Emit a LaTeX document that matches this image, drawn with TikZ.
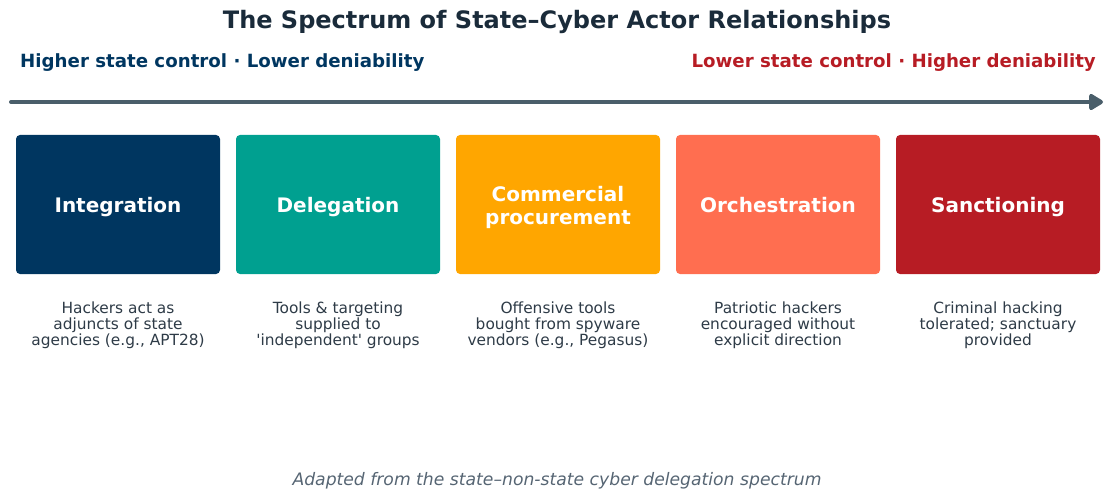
\documentclass[tikz,border=0pt]{standalone}
\usepackage{fontspec}
\setmainfont{DejaVu Sans}
\usetikzlibrary{arrows.meta}
\definecolor{cnavy}{HTML}{003660}
\definecolor{cteal}{HTML}{00A090}
\definecolor{corange}{HTML}{FFA600}
\definecolor{ccoral}{HTML}{FF6E50}
\definecolor{cred}{HTML}{B71C24}
\definecolor{carrow}{HTML}{4A5E6A}
\definecolor{ctitle}{HTML}{1A2B3A}
\definecolor{cdesc}{HTML}{2E3B47}
\definecolor{cfoot}{HTML}{566573}
\tikzset{
  x=1pt,y=-1pt,
  catbox/.style={draw=none,rounded corners=4pt,minimum width=204pt,minimum height=139pt,inner sep=0pt},
  catlabel/.style={text=white,font=\fontsize{20}{23}\selectfont\bfseries,align=center,anchor=base,inner sep=0pt},
  desc/.style={text=cdesc,font=\fontsize{15.4}{16}\selectfont,align=center,anchor=base,inner sep=0pt},
}
\begin{document}
\begin{tikzpicture}
\useasboundingbox (0,0) rectangle (1113,497);
\node[font=\fontsize{24}{28}\selectfont\bfseries,text=ctitle,anchor=base,inner sep=0pt] (title) at (557,29) {The Spectrum of State–Cyber Actor Relationships};
\node[font=\fontsize{18.2}{22}\selectfont\bfseries,text=cnavy,anchor=base west,inner sep=0pt] (left) at (20,68) {Higher state control · Lower deniability};
\node[font=\fontsize{18.2}{22}\selectfont\bfseries,text=cred,anchor=base east,inner sep=0pt] (right) at (1096,68) {Lower state control · Higher deniability};
\coordinate (a0) at (11,102);
\coordinate (a1) at (1103,102);
\draw[carrow,line width=4pt,line cap=round,-{Triangle[length=16pt,width=18pt,round]}] (a0) -- (a1);
\foreach \i/\c/\t/\y/\d in {
 0/cnavy/Integration/212/{Hackers act as\\adjuncts of state\\agencies (e.g., APT28)},
 1/cteal/Delegation/212/{Tools \& targeting\\supplied to\\\textquotesingle independent\textquotesingle\ groups},
 2/corange/{Commercial\\procurement}/224/{Offensive tools\\bought from spyware\\vendors (e.g., Pegasus)},
 3/ccoral/Orchestration/212/{Patriotic hackers\\encouraged without\\explicit direction},
 4/cred/Sanctioning/212/{Criminal hacking\\tolerated; sanctuary\\provided}} {
  \node[catbox,fill=\c] (b\i) at (118+220*\i,204.5) {};
  \node[catlabel] (l\i) at (118+220*\i,\y) {\t};
  \node[desc] (d\i) at (118+220*\i,345) {\d};
}
\node[font=\fontsize{17.2}{20}\selectfont\itshape,text=cfoot,anchor=base,inner sep=0pt] (foot) at (557,485) {Adapted from the state–non-state cyber delegation spectrum};
\end{tikzpicture}
\end{document}
